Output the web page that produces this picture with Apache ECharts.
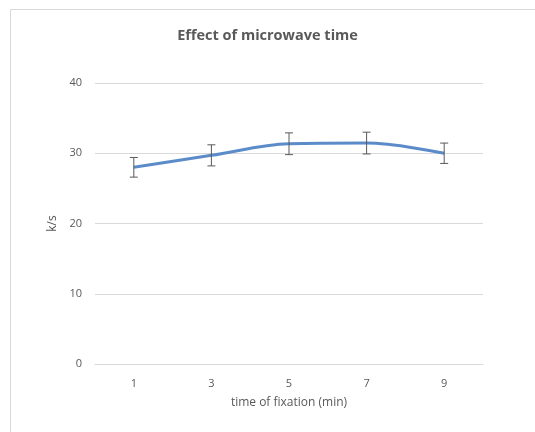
<!DOCTYPE html>
<html><head><meta charset="utf-8">
<script src="https://cdn.jsdelivr.net/npm/echarts@6/dist/echarts.min.js"></script>
<style>html,body{margin:0;padding:0;background:#fff}#c{width:535px;height:432px}</style>
</head><body><div id="c"></div>
<script>
const categories = ['1','3','5','7','9'];
const values = [28.0, 29.7, 31.35, 31.45, 30.0];
const errors = [1.4, 1.5, 1.55, 1.55, 1.45];
const yTicks = [0, 10, 20, 30, 40];

const chart = echarts.init(document.getElementById('c'));
const errData = values.map((v, i) => [i, v - errors[i], v + errors[i]]);
chart.setOption({
  animation: false,
  backgroundColor: '#fff',
  textStyle: { fontFamily: 'Open Sans, Liberation Sans, sans-serif' },
  graphic: [{
    type: 'rect', shape: { x: 10.5, y: 9.5, width: 600, height: 600 },
    style: { fill: 'none', stroke: '#d9d9d9', lineWidth: 1 }, silent: true
  }],
  title: {
    text: 'Effect of microwave time', left: 'center', top: 23,
    textStyle: { color: '#595959', fontSize: 14.5, fontWeight: 'bold', fontFamily: 'Open Sans, sans-serif' }
  },
  grid: { left: 95, right: 52, top: 83, bottom: 68 },
  xAxis: {
    type: 'category', data: categories, boundaryGap: true,
    name: 'time of fixation (min)', nameLocation: 'middle', nameGap: 33,
    nameTextStyle: { color: '#595959', fontSize: 12 },
    axisLine: { show: true, lineStyle: { color: '#d9d9d9' } },
    axisTick: { show: false },
    axisLabel: { color: '#595959', fontSize: 11, margin: 14 }
  },
  yAxis: {
    type: 'value', min: yTicks[0], max: yTicks[yTicks.length - 1], interval: 10,
    name: 'k/s', nameLocation: 'middle', nameGap: 30,
    nameTextStyle: { color: '#595959', fontSize: 12 },
    axisLine: { show: false }, axisTick: { show: false },
    axisLabel: { color: '#595959', fontSize: 11, margin: 13 },
    splitLine: { lineStyle: { color: '#d9d9d9' } }
  },
  series: [{
    type: 'line', data: values, smooth: 0.35, symbol: 'none',
    lineStyle: { color: '#5b8bc9', width: 3 }, z: 2
  }, {
    type: 'custom', data: errData, z: 3,
    renderItem: function (params, api) {
      const x = api.value(0);
      const lo = api.coord([x, api.value(1)]);
      const hi = api.coord([x, api.value(2)]);
      const w = 4;
      const st = { stroke: '#595959', lineWidth: 1 };
      return { type: 'group', children: [
        { type: 'line', shape: { x1: lo[0], y1: lo[1], x2: hi[0], y2: hi[1] }, style: st },
        { type: 'line', shape: { x1: lo[0] - w, y1: lo[1], x2: lo[0] + w, y2: lo[1] }, style: st },
        { type: 'line', shape: { x1: hi[0] - w, y1: hi[1], x2: hi[0] + w, y2: hi[1] }, style: st }
      ]};
    }
  }]
});
</script></body></html>
